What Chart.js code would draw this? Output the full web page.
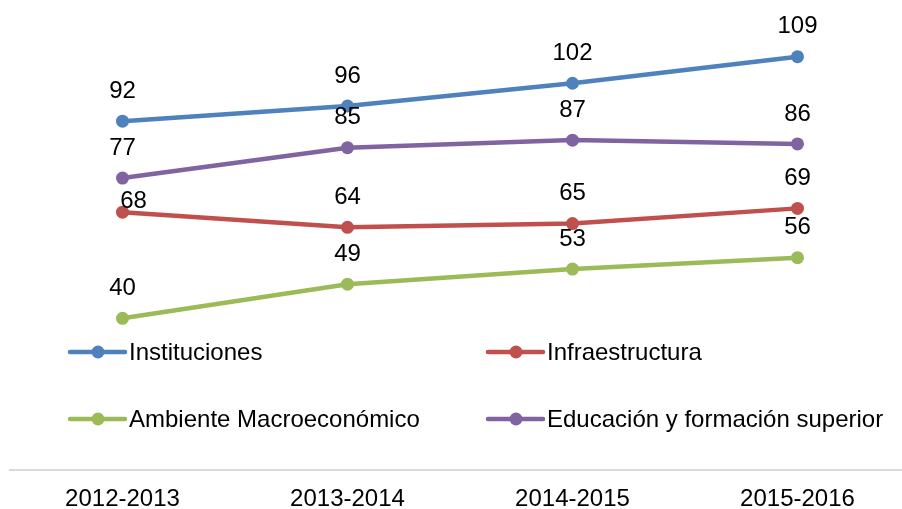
<!DOCTYPE html>
<html lang="es">
<head>
  <meta charset="UTF-8" />
  <title>Pilares</title>
  <style>
    * { box-sizing: border-box; margin: 0; padding: 0; }
    html, body { width: 902px; height: 509px; overflow: hidden; background: #fff; }
    canvas { display: block; }
  </style>
  <script src="https://cdn.jsdelivr.net/npm/chart.js@4/dist/chart.umd.min.js"></script>
</head>
<body>
  <canvas id="c" width="910" height="509"></canvas>
  <script>
    // datos
    const periodos = ['2012-2013', '2013-2014', '2014-2015', '2015-2016'];
    const instituciones = [92, 96, 102, 109];
    const infraestructura = [68, 64, 65, 69];
    const ambienteMacro = [40, 49, 53, 56];
    const educacion = [77, 85, 87, 86];

    const FONT = '"Liberation Sans", Arial, sans-serif';

    function serie(label, data, color) {
      return {
        label, data,
        borderColor: color,
        backgroundColor: color,
        borderWidth: 4.5,
        pointRadius: 6.5,
        pointHoverRadius: 6.5,
        pointBorderWidth: 0,
        tension: 0
      };
    }

    // etiquetas de datos encima de cada punto
    const etiquetas = {
      id: 'etiquetas',
      afterDatasetsDraw(chart) {
        const ctx = chart.ctx;
        ctx.save();
        ctx.font = '24px ' + FONT;
        ctx.fillStyle = '#000';
        ctx.textAlign = 'center';
        ctx.textBaseline = 'middle';
        chart.data.datasets.forEach((ds, i) => {
          chart.getDatasetMeta(i).data.forEach((pt, j) => {
            let dx = 0, dy = -30;
            if (i === 1 && j === 0) { dx = 11; dy = -11; } // 68 movido a mano
            ctx.fillText(ds.data[j], pt.x + dx, pt.y + dy);
          });
        });
        ctx.restore();
      }
    };

    // leyenda en dos columnas dentro del área
    const leyenda = {
      id: 'leyenda',
      afterDraw(chart) {
        const ctx = chart.ctx;
        const cols = [70, 488], rows = [352, 419];
        ctx.save();
        ctx.font = '24px ' + FONT;
        ctx.textBaseline = 'middle';
        chart.data.datasets.forEach((ds, i) => {
          const x = cols[i % 2], y = rows[Math.floor(i / 2)];
          ctx.strokeStyle = ds.borderColor;
          ctx.lineWidth = 4.5;
          ctx.lineCap = 'round';
          ctx.beginPath();
          ctx.moveTo(x, y);
          ctx.lineTo(x + 55, y);
          ctx.stroke();
          ctx.fillStyle = ds.borderColor;
          ctx.beginPath();
          ctx.arc(x + 28, y, 6.5, 0, Math.PI * 2);
          ctx.fill();
          ctx.fillStyle = '#000';
          ctx.fillText(ds.label, x + 59, y + 1);
        });
        ctx.restore();
      }
    };

    new Chart(document.getElementById('c'), {
      type: 'line',
      data: {
        labels: periodos,
        datasets: [
          serie('Instituciones', instituciones, '#4F81BD'),
          serie('Infraestructura', infraestructura, '#C0504D'),
          serie('Ambiente Macroeconómico', ambienteMacro, '#9BBB59'),
          serie('Educación y formación superior', educacion, '#8064A2')
        ]
      },
      options: {
        responsive: false,
        animation: false,
        layout: { autoPadding: false, padding: { left: 10, right: 0, top: 15, bottom: 0 } },
        scales: {
          x: {
            offset: true,
            grid: { display: false, drawTicks: false },
            border: { display: true, color: '#D9D9D9', width: 2 },
            ticks: { color: '#000', padding: 15, font: { size: 24, family: FONT }, maxRotation: 0 },
            afterFit(scale) { scale.height = 39; }
          },
          y: { display: false, min: 0, max: 120 }
        },
        plugins: { legend: { display: false }, tooltip: { enabled: false } }
      },
      plugins: [etiquetas, leyenda]
    });
  </script>
</body>
</html>
